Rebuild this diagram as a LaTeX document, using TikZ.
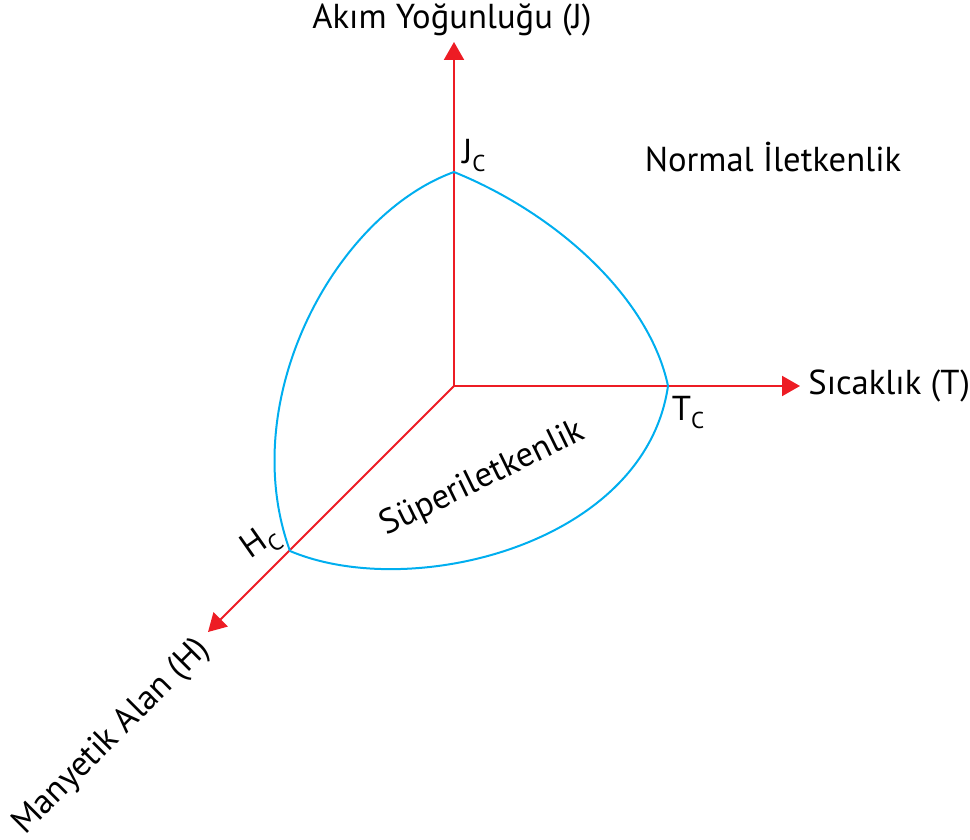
\documentclass[tikz,border=0pt]{standalone}
\usepackage{fontspec}
\setmainfont{PT Sans}
\usetikzlibrary{arrows.meta}
\definecolor{axisred}{RGB}{237,28,36}
\definecolor{curveblue}{RGB}{0,174,239}
\newcommand{\crit}[1]{#1\raisebox{-4pt}{\fontsize{11.5}{12}\selectfont C}}

\begin{document}
\begin{tikzpicture}[x=0.5pt, y=-0.5pt, font=\fontsize{17.3}{20}\selectfont,
    axis/.style={axisred, line width=1pt, -{Triangle[length=9pt, width=10pt]}},
    boundary/.style={curveblue, line width=1pt}]
    \useasboundingbox (0,0) rectangle (970,840);
    % axes
    \coordinate (O) at (454,386);
    \coordinate (Jend) at (454,42);
    \coordinate (Tend) at (800,386);
    \coordinate (Hend) at (208,632);
    \draw[axis] (O) -- (Jend);
    \draw[axis] (O) -- (Tend);
    \draw[axis] (O) -- (Hend);
    % critical points
    \coordinate (Jc) at (454,172);
    \coordinate (Tc) at (668,386);
    \coordinate (Hc) at (290,551);
    \draw[boundary] (Jc) .. controls (560,215) and (650,300) .. (Tc);
    \draw[boundary] (Jc) .. controls (335,215) and (235,400) .. (Hc);
    \draw[boundary] (Hc) .. controls (410,602) and (645,545) .. (Tc);
    % labels
    \node (jlabel) at (452,20) {Akım Yoğunluğu (J)};
    \node[anchor=west, inner sep=0pt] (tlabel) at (808,386) {Sıcaklık (T)};
    \node[rotate=45] (hlabel) at (112,737) {Manyetik Alan (H)};
    \node (normal) at (773,157) {Normal İletkenlik};
    \node[rotate=26] (super) at (483,479) {Süperiletkenlik};
    \node (jc) at (474,156) {\crit{J}};
    \node (tc) at (688,413) {\crit{T}};
    \node[rotate=35] (hc) at (261,543) {\crit{H}};
\end{tikzpicture}
\end{document}
